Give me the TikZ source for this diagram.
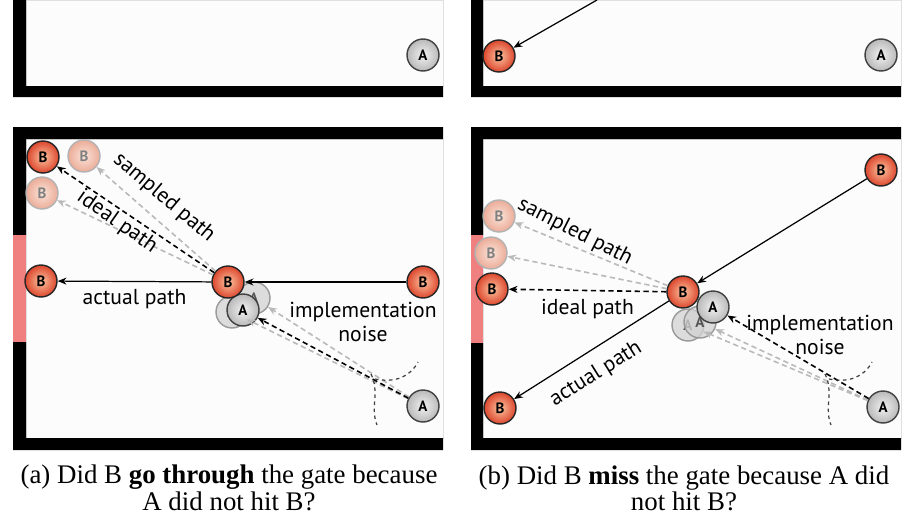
\documentclass[tikz,border=0pt]{standalone}
\usepackage{fontspec}
\setmainfont{Liberation Serif}
\setsansfont{PT Sans}
\usepackage{xcolor}
\usetikzlibrary{positioning,arrows.meta}

\definecolor{ballred}{RGB}{220,70,45}
\definecolor{ballredin}{RGB}{252,196,160}
\definecolor{ghostin}{RGB}{250,228,218}
\definecolor{ghostout}{RGB}{236,172,152}
\definecolor{gatepink}{RGB}{240,128,128}
\definecolor{floor}{RGB}{252,252,252}

\begin{document}
\begin{tikzpicture}[x=0.02cm, y=-0.02cm, font=\sffamily,
		ball/.style={circle, minimum size=0.64cm, inner sep=0pt, line width=0.8pt, font=\sffamily\bfseries\fontsize{8.5}{8.5}\selectfont},
		ballB/.style={ball, draw=black!85, inner color=ballredin, outer color=ballred},
		ballA/.style={ball, draw=black!75, inner color=gray!10, outer color=gray!55},
		ghostB/.style={ball, draw=gray!60, inner color=ghostin, outer color=ghostout, text=gray},
		ghostA/.style={ball, draw=gray!80, fill=gray!35, fill opacity=0.75, text opacity=0.6},
		wall/.style={fill=black},
		gate/.style={fill=gatepink},
		room/.style={fill=floor, draw=black!12, line width=0.4pt},
		move/.style={-{Stealth[length=5pt,width=4pt]}, line width=0.7pt},
		ideal/.style={move, dash pattern=on 3pt off 2pt, line width=0.9pt},
		sample/.style={ideal, draw=gray!55},
		noise/.style={draw=black!75, dash pattern=on 2pt off 2pt, line width=0.7pt},
		lbl/.style={font=\sffamily\fontsize{12.3}{14}\selectfont},
		subcap/.style={font=\rmfamily\fontsize{15.3}{13.6}\selectfont, align=center}]
		\useasboundingbox (0,0) rectangle (918,517);
		\fill[white] (0,0) rectangle (918,517);
		% top row
		\filldraw[room] (26,0) rectangle (443,86);
		\fill[wall] (13,0) rectangle (26,97) (13,86) rectangle (443,97);
		\filldraw[room] (483,0) rectangle (901,86);
		\fill[wall] (471,0) rectangle (483,97) (471,86) rectangle (901,97);
		% bottom row
		\filldraw[room] (26,139) rectangle (443,438);
		\fill[wall] (13,127) rectangle (443,139) (13,438) rectangle (443,450) (13,127) rectangle (26,235) (13,342) rectangle (26,450);
		\fill[gate] (13,235) rectangle (26,342);
		\filldraw[room] (483,139) rectangle (901,438);
		\fill[wall] (471,127) rectangle (901,139) (471,438) rectangle (901,450) (471,127) rectangle (483,235) (471,343) rectangle (483,450);
		\fill[gate] (471,235) rectangle (483,343);

		% top left
		\node[ballA] (a-top) at (423,55) {A};
		% top right
		\coordinate (b-src) at (597,0);
		\node[ballB] (b-top) at (499,56) {B};
		\node[ballA] (a-top2) at (881,55) {A};
		\draw[move] (b-src) -- (b-top);

		% bottom left
		\node[ghostB] (bl-g1) at (84,156) {B};
		\node[ghostB] (bl-g2) at (42,193) {B};
		\node[ballB] (bl-ideal) at (43,157) {B};
		\node[ballB] (bl-gate) at (41,281) {B};
		\node[ballB] (bl-start) at (423,282) {B};
		\node[ghostA] (al-g1) at (254,298) {A};
		\node[ghostA] (al-g2) at (232,312) {A};
		\node[ballA] (al-hit) at (243,310) {A};
		\node[ballB] (bl-mid) at (228,282) {B};
		\node[ballA] (al-start) at (423,406) {A};
		\draw[move] (bl-start) -- (bl-mid);
		\draw[move] (bl-mid) -- node[below=1pt, lbl] {actual path} (bl-gate);
		\draw[sample] (bl-mid) -- (bl-g1);
		\draw[sample] (bl-mid) -- (bl-g2);
		\draw[ideal] (bl-mid) -- (bl-ideal);
		\draw[sample] (al-start) -- (al-g1);
		\draw[sample] (al-start) -- (al-g2);
		\draw[ideal] (al-start) -- (al-hit);
		\node[lbl, rotate=-40] (sampled-l) at (164,198) {sampled path};
		\node[lbl, rotate=-35] (ideal-l) at (117,222) {ideal path};
		\node[lbl, align=center] (noise-l) at (363,322) {implementation\\noise};
		\draw[noise] (375,379) .. controls (395,383) and (410,377) .. (418,362);
		\draw[noise] (371,374) .. controls (380,392) and (370,408) .. (377,425);

		% bottom right
		\node[ghostB] (br-g1) at (499,216) {B};
		\node[ghostB] (br-g2) at (491,253) {B};
		\node[ballB] (br-ideal) at (492,289) {B};
		\node[ballB] (br-start) at (881,170) {B};
		\node[ballB] (br-mid) at (683,292) {B};
		\node[ballB] (br-miss) at (500,408) {B};
		\node[ghostA] (ar-g1) at (688,325) {A};
		\node[ghostA] (ar-g2) at (700,322) {A};
		\node[ballA] (ar-hit) at (713,307) {A};
		\node[ballA] (ar-start) at (883,407) {A};
		\draw[move] (br-start) -- (br-mid);
		\draw[move] (br-mid) -- (br-miss);
		\draw[ideal] (br-mid) -- node[below=1pt, lbl] {ideal path} (br-ideal);
		\draw[sample] (br-mid) -- (br-g1);
		\draw[sample] (br-mid) -- (br-g2);
		\draw[sample] (ar-start) -- (ar-g1);
		\draw[sample] (ar-start) -- (ar-g2);
		\draw[ideal] (ar-start) -- (ar-hit);
		\node[lbl, rotate=32] (actual-r) at (596,374) {actual path};
		\node[lbl, rotate=-27] (sampled-r) at (575,232) {sampled path};
		\node[lbl, align=center] (noise-r) at (820,335) {implementation\\noise};
		\draw[noise] (829,379) .. controls (849,383) and (864,377) .. (872,362);
		\draw[noise] (825,374) .. controls (834,392) and (824,408) .. (831,425);

		% captions
		\node[subcap] (cap-a) at (229,488) {(a) Did B \textbf{go through} the gate because\\A did not hit B?};
		\node[subcap] (cap-b) at (684,488) {(b) Did B \textbf{miss} the gate because A did\\not hit B?};
	\end{tikzpicture}
\end{document}
